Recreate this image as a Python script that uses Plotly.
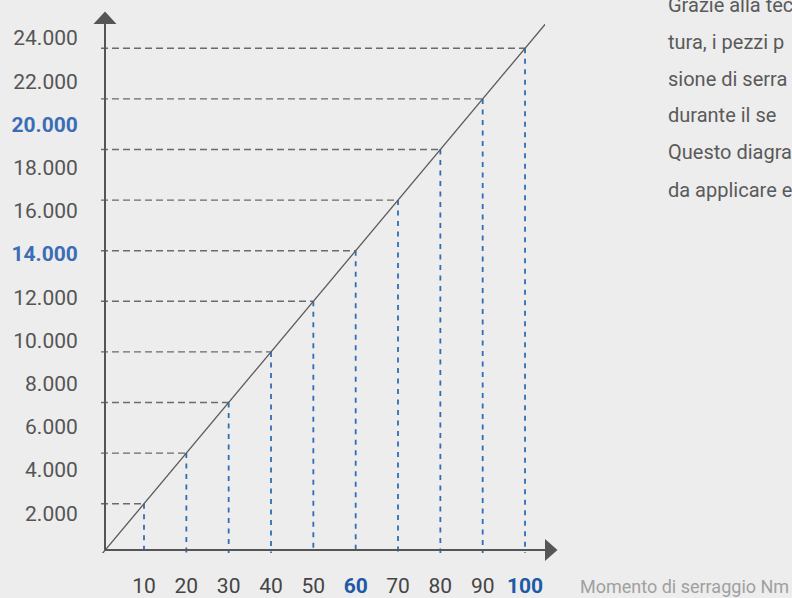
import plotly.graph_objects as go

# ---------------- data ----------------
torque_nm = [10, 20, 30, 40, 50, 60, 70, 80, 90, 100]
clamp_force = [2400, 4800, 7200, 9600, 12000, 14400, 16800, 19200, 21600, 24000]
line_x = [0, 105]
line_y = [0, 25200]

x_tick_vals = [10, 20, 30, 40, 50, 60, 70, 80, 90, 100]
x_tick_text = ["10", "20", "30", "40", "50", "60", "70", "80", "90", "100"]
x_highlight = ["60", "100"]

y_tick_vals = [2000, 4000, 6000, 8000, 10000, 12000, 14000, 16000, 18000, 20000, 22000, 24000]
y_tick_text = ["2.000", "4.000", "6.000", "8.000", "10.000", "12.000", "14.000",
               "16.000", "18.000", "20.000", "22.000", "24.000"]
y_highlight = ["14.000", "20.000"]

x_title = "Momento di serraggio Nm"
side_text = ["Grazie alla tec", "tura, i pezzi p", "sione di serra",
             "durante il se", "Questo diagra", "da applicare e"]

# ---------------- layout constants ----------------
W, H = 792, 598
L, R, T, B = 101, 545, 24, 553
X_MIN, X_MAX = -0.158, 104.72
Y_MIN, Y_MAX = 62, 25153
Y2_MIN, Y2_MAX = 157, 24648

BG = "#ededed"
AX = "#555555"
GRAY_DASH = "#6b6b6b"
BLUE_DASH = "#2f6db5"
Y_BLUE = "#3b6db7"
X_BLUE = "#1f5aa6"
FONT = "Roboto"


def px(xp):
    return (xp - L) / (R - L)


def py(yp):
    return (B - yp) / (B - T)


fig = go.Figure()

# horizontal grey dashed guides
hx, hy = [], []
for t, f in zip(torque_nm, clamp_force):
    hx += [X_MIN, t, None]
    hy += [f, f, None]
fig.add_trace(go.Scatter(x=hx, y=hy, mode="lines",
                         line=dict(color=GRAY_DASH, width=1.4, dash="7px,4px"),
                         hoverinfo="skip", showlegend=False))

# vertical blue dashed guides
vx, vy = [], []
for t, f in zip(torque_nm, clamp_force):
    vx += [t, t, None]
    vy += [f, Y_MIN, None]
fig.add_trace(go.Scatter(x=vx, y=vy, mode="lines",
                         line=dict(color=BLUE_DASH, width=1.8, dash="5px,5.5px"),
                         hoverinfo="skip", showlegend=False))

# diagonal line
fig.add_trace(go.Scatter(x=line_x, y=line_y, mode="lines",
                         line=dict(color="#5a5a5a", width=1.3),
                         hoverinfo="skip", showlegend=False))

# invisible trace for the label axis
fig.add_trace(go.Scatter(x=[None], y=[None], yaxis="y2", showlegend=False, hoverinfo="skip"))


def fmt(lbl, hl, color):
    if lbl in hl:
        return f"<b><span style='color:{color}'>{lbl}</span></b>"
    return lbl


# axis lines & arrowheads (decoration in paper coordinates)
shapes = [
    dict(type="line", xref="paper", yref="paper", x0=px(105), x1=px(105), y0=py(550), y1=py(24),
         line=dict(color=AX, width=2)),
    dict(type="line", xref="paper", yref="paper", x0=px(105), x1=px(545), y0=py(550), y1=py(550),
         line=dict(color=AX, width=2)),
    dict(type="path", xref="paper", yref="paper",
         path=f"M {px(93.5)},{py(24)} L {px(116.5)},{py(24)} L {px(105)},{py(11.5)} Z",
         fillcolor=AX, line=dict(width=0)),
    dict(type="path", xref="paper", yref="paper",
         path=f"M {px(545)},{py(539)} L {px(545)},{py(561)} L {px(557.5)},{py(550)} Z",
         fillcolor=AX, line=dict(width=0)),
]

annotations = [
    dict(text=x_title, xref="paper", yref="paper", x=px(578), y=py(586), xanchor="left",
         yanchor="middle", showarrow=False, font=dict(family=FONT, size=18, color="#a0a0a0")),
]
side_y = [5, 42, 79, 115, 152, 190]
for txt, yy in zip(side_text, side_y):
    annotations.append(dict(text=txt, xref="paper", yref="paper", x=px(666), y=py(yy),
                            xanchor="left", yanchor="middle", showarrow=False,
                            font=dict(family=FONT, size=20, color="#5a5a5a")))

fig.update_layout(
    width=W, height=H, autosize=False,
    margin=dict(l=L, r=W - R, t=T, b=H - B, pad=0, autoexpand=False),
    paper_bgcolor=BG, plot_bgcolor=BG,
    showlegend=False,
    font=dict(family=FONT, size=21, color=AX),
    xaxis=dict(range=[X_MIN, X_MAX], showgrid=False, zeroline=False, showline=False,
               automargin=False,
               tickmode="array", tickvals=x_tick_vals,
               ticktext=[fmt(t, x_highlight, X_BLUE) for t in x_tick_text],
               ticks="outside", ticklen=14, tickcolor="rgba(0,0,0,0)",
               tickfont=dict(family=FONT, size=21, color="#444444")),
    yaxis=dict(range=[Y_MIN, Y_MAX], showgrid=False, zeroline=False, showline=False,
               automargin=False, showticklabels=False, ticks=""),
    yaxis2=dict(range=[Y2_MIN, Y2_MAX], overlaying="y", side="left", anchor="x",
                automargin=False,
                showgrid=False, zeroline=False, showline=False,
                tickmode="array", tickvals=y_tick_vals,
                ticktext=[fmt(t, y_highlight, Y_BLUE) for t in y_tick_text],
                ticks="outside", ticklen=18, tickcolor="rgba(0,0,0,0)",
                tickfont=dict(family=FONT, size=21, color="#555555")),
    shapes=shapes,
    annotations=annotations,
)

fig.write_html("out.html", config={"displayModeBar": False},
               post_script="document.body.style.margin='0';")
